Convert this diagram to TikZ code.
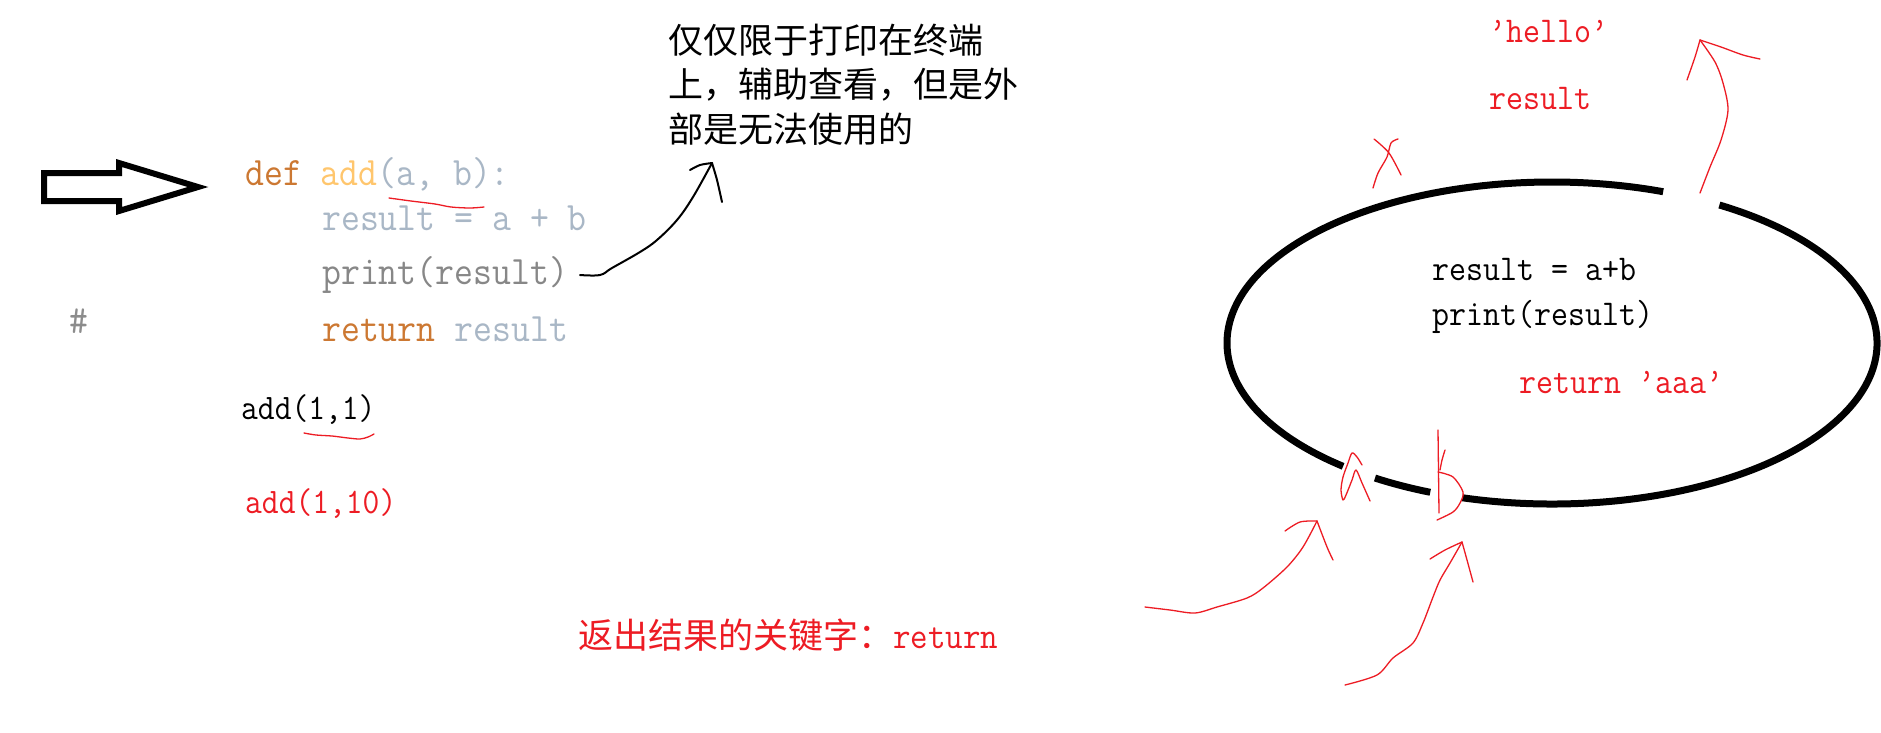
\documentclass[tikz,border=0pt]{standalone}
\usepackage{fontspec}
\usepackage{graphicx}
\newfontfamily\cjk{Noto Sans CJK SC}
\definecolor{deforange}{HTML}{CC7832}
\definecolor{addyellow}{HTML}{FFC66D}
\definecolor{paramgray}{HTML}{A9B7C6}
\definecolor{printgray}{HTML}{878787}
\definecolor{hashgray}{HTML}{8C8C8C}
\definecolor{myred}{HTML}{ED1C24}
\newcommand\tall[1]{\scalebox{1}[1.1]{#1}}
\begin{document}
\begin{tikzpicture}[x=1pt,y=-1pt,
  code/.style={anchor=base west, inner sep=0pt, font=\ttfamily\fontsize{36.7}{40}\selectfont},
  ann/.style={anchor=base west, inner sep=0pt, font=\ttfamily\fontsize{33}{40}\selectfont},
  call/.style={anchor=base west, inner sep=0pt, font=\ttfamily\fontsize{32.6}{40}\selectfont},
  cn/.style={anchor=base west, inner sep=0pt, font=\cjk\fontsize{35}{44}\selectfont},
  pen/.style={myred, line width=1.3pt, line cap=round, line join=round},
  ink/.style={black, line width=2pt, line cap=round, line join=round},
  thick ring/.style={black, line width=7pt},
  hollow/.style={black, line width=6pt, line join=miter, fill=white}]
\useasboundingbox (0,0) rectangle (1881,732);
\fill[white] (0,0) rectangle (1881,732);

% hollow arrow
\draw[hollow] (44,173) -- (119,173) -- (119,163) -- (198,187) -- (119,211) -- (119,201) -- (44,201) -- cycle;

% code
\node[code] (l1) at (245,185) {\tall{{\color{deforange}def }{\color{addyellow}add}{\color{paramgray}(a, b):}}};
\node[code, text=paramgray] (l2) at (322,230) {\tall{result = a + b}};
\node[code, text=printgray] (l3) at (322,284) {\tall{print(result)}};
\node[code] (l4) at (322,341) {\tall{{\color{deforange}return }{\color{paramgray}result}}};
\node[code, text=hashgray] (hash) at (69,333) {\tall{\#}};
\node[call] (c1) at (241,419) {\tall{add(1,1)}};
\node[call, text=myred] (c2) at (245,513) {\tall{add(1,10)}};

% underlines
\draw[pen] plot[smooth] coordinates {(389,198) (411,201) (435,204) (451,207) (470,208) (484,207)};
\draw[pen] plot[smooth] coordinates {(304,433) (316,435) (332,436) (348,438) (360,439) (368,437) (374,434)};

% chinese annotation
\node[cn] (n1) at (668,53) {仅仅限于打印在终端};
\node[cn] (n2) at (668,97) {上，辅助查看，但是外};
\node[cn] (n3) at (668,142) {部是无法使用的};

% black connector
\coordinate (cs) at (580,275);
\coordinate (ct) at (712,163);
\draw[ink] plot[smooth, tension=0.6] coordinates {(cs) (600,275) (612,268) (640,252) (657,240) (677,220) (693,197) (ct)};
\draw[ink] plot[smooth] coordinates {(690,170) (700,165) (ct)};
\draw[ink] plot[smooth] coordinates {(ct) (717,180) (722,202)};

% bottom annotation
\node[cn, text=myred] (key) at (578,648) {返出结果的关键字：{\ttfamily\fontsize{34}{40}\selectfont\tall{return}}};

% ellipse with gaps
\coordinate (E) at (1552,343);
\draw[thick ring] ([shift={(-59:325 and 161)}]E) arc[start angle=-59, end angle=106, x radius=325, y radius=161];
\draw[thick ring] ([shift={(112:325 and 161)}]E) arc[start angle=112, end angle=123, x radius=325, y radius=161];
\draw[thick ring] ([shift={(130:325 and 161)}]E) arc[start angle=130, end angle=290, x radius=325, y radius=161];

% ellipse texts
\node[ann] (e1) at (1432,280) {\tall{result = a+b}};
\node[ann] (e2) at (1432,325) {\tall{print(result)}};
\node[ann, text=myred] (e3) at (1519,393) {\tall{return ’aaa’}};

% top texts
\node[ann, text=myred] (hello) at (1489,42) {\tall{’hello’}};
\node[ann, text=myred] (res) at (1489,109) {\tall{result}};

% X mark
\draw[pen] plot[smooth] coordinates {(1374,139) (1389,153) (1401,175)};
\draw[pen] plot[smooth] coordinates {(1398,139) (1391,143) (1387,157) (1378,173) (1373,188)};

% red up arrow
\coordinate (ut) at (1700,40);
\draw[pen] plot[smooth] coordinates {(1700,193) (1710,167) (1721,140) (1728,110) (1723,83) (1715,62) (ut)};
\draw[pen] plot[smooth] coordinates {(1687,80) (1695,57) (ut)};
\draw[pen] plot[smooth] coordinates {(ut) (1721,47) (1743,55) (1760,59)};

% hand-written a
\draw[pen] plot[smooth] coordinates {(1370,501) (1362,483) (1356,470) (1352,480) (1346,495) (1343,500) (1341,490) (1343,477) (1348,463) (1352,453) (1357,457) (1362,465)};
% hand-written b
\draw[pen] (1438,430) -- (1439,513);
\draw[pen] plot[smooth] coordinates {(1445,450) (1442,460) (1440,470)};
\draw[pen] plot[smooth] coordinates {(1438,472) (1453,477) (1463,492) (1460,503) (1453,512) (1437,520)};

% red arrow 1
\coordinate (a1) at (1317,521);
\draw[pen] plot[smooth] coordinates {(1145,607) (1170,610) (1195,613) (1217,607) (1247,598) (1263,588) (1287,567) (1303,547) (a1)};
\draw[pen] plot[smooth] coordinates {(1285,531) (1300,522) (a1)};
\draw[pen] plot[smooth] coordinates {(a1) (1327,547) (1333,560)};

% red arrow 2
\coordinate (a2) at (1462,542);
\draw[pen] plot[smooth] coordinates {(1345,685) (1377,675) (1393,658) (1413,643) (1423,623) (1433,597) (1440,580) (1450,563) (a2)};
\draw[pen] plot[smooth] coordinates {(1430,559) (1445,550) (a2)};
\draw[pen] plot[smooth] coordinates {(a2) (1467,560) (1473,582)};
\end{tikzpicture}
\end{document}
